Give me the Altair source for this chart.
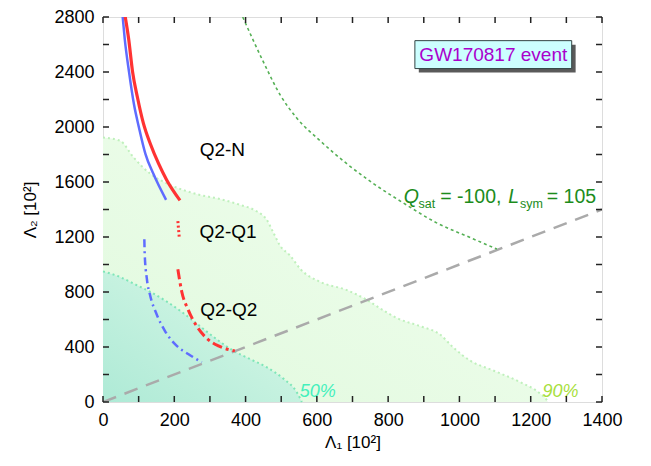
import altair as alt
import pandas as pd

# ---------------- data ----------------
# 90% credible region boundary (Lambda1, Lambda2) in units of 10^2
r90_x = [0, 48, 85, 132, 179, 225, 272, 319, 384, 431, 459, 478, 497, 525, 553, 609, 684, 740, 777, 824, 890, 945, 983, 1030, 1095, 1170, 1226, 1245, 1248]
r90_y = [1924, 1900, 1781, 1661, 1590, 1542, 1506, 1482, 1434, 1387, 1327, 1232, 1136, 1065, 969, 874, 814, 743, 682, 611, 551, 492, 396, 301, 229, 145, 62, 14, 0]
# 50% credible region boundary
r50_x = [0, 48, 85, 132, 179, 225, 272, 319, 366, 412, 459, 506, 543, 553, 558]
r50_y = [950, 909, 862, 802, 730, 647, 551, 456, 372, 313, 253, 170, 74, 26, 0]

# Q2-N curves
blue_n_x = [55, 61, 73, 87, 101, 119, 141, 177]
blue_n_y = [2807, 2640, 2401, 2163, 1995, 1805, 1661, 1470]
red_n_x = [62, 72, 83, 97, 113, 133, 156, 179, 216]
red_n_y = [2807, 2640, 2401, 2211, 2030, 1876, 1733, 1613, 1466]
# Q2-Q1 (red dotted)
red_q1_x = [210, 212, 214]
red_q1_y = [1315, 1255, 1196]
# Q2-Q2 (dash-dot)
red_q2_x = [210, 221, 239, 263, 291, 324, 370]
red_q2_y = [965, 802, 671, 551, 463, 408, 372]
blue_q2_x = [116, 117, 123, 132, 151, 174, 207, 239, 277]
blue_q2_y = [1184, 1076, 897, 778, 635, 516, 408, 349, 289]
# Q_sat = -100, L_sym = 105 curve (green dotted)
qsat_x = [392, 450, 497, 543, 609, 684, 758, 843, 936, 1030, 1105]
qsat_y = [2800, 2473, 2234, 2067, 1900, 1733, 1590, 1447, 1303, 1196, 1112]
# Lambda1 = Lambda2 line
eq_x = [0, 1400]
eq_y = [0, 1400]

# text labels
region_labels = ["Q2-N", "Q2-Q1", "Q2-Q2"]
region_lx = [335, 351, 353]
region_ly = [1831, 1239, 666]

x_ticks = list(range(0, 1401, 100))
y_ticks = list(range(0, 2801, 200))
x_labels = list(range(0, 1401, 200))
y_labels = list(range(0, 2801, 400))

W, H = 499, 385
FONT = "Liberation Sans"

xs = alt.Scale(domain=[0, 1400], nice=False, zero=False)
ys = alt.Scale(domain=[0, 2800], nice=False, zero=False)

x_axis = alt.Axis(values=x_labels, format="d", ticks=False, domain=False, grid=False,
                  labelFlush=False, labelOverlap=False,
                  labelFont=FONT, labelFontSize=18, labelColor="black", labelPadding=9,
                  title="Λ₁ [10²]", titleFont=FONT, titleFontSize=17,
                  titleFontWeight="normal", titleColor="black", titlePadding=5)
y_axis = alt.Axis(values=y_labels, format="d", ticks=False, domain=False, grid=False,
                  labelFlush=False, labelOverlap=False,
                  labelFont=FONT, labelFontSize=18, labelColor="black", labelPadding=9,
                  title="Λ₂ [10²]", titleFont=FONT, titleFontSize=17,
                  titleFontWeight="normal", titleColor="black", titlePadding=14)


def df(xv, yv):
    return pd.DataFrame({"x": xv, "y": yv})


def X():
    return alt.X("x:Q", scale=xs, axis=x_axis, title="Λ₁ [10²]")


def Y():
    return alt.Y("y:Q", scale=ys, axis=y_axis, title="Λ₂ [10²]")


grad90 = alt.Gradient(gradient="linear", x1=0, y1=1, x2=1, y2=0,
                      stops=[alt.GradientStop(color="#e0f9dd", offset=0),
                             alt.GradientStop(color="#f3fff1", offset=1)])
grad50 = alt.Gradient(gradient="linear", x1=0, y1=1, x2=1, y2=0,
                      stops=[alt.GradientStop(color="#aeead6", offset=0),
                             alt.GradientStop(color="#ddf9e9", offset=1)])

area90 = alt.Chart(df(r90_x, r90_y)).mark_area(
    interpolate="monotone", color=grad90).encode(x=X(), y=Y())
area50 = alt.Chart(df(r50_x, r50_y)).mark_area(
    interpolate="monotone", color=grad50).encode(x=X(), y=Y())
edge90 = alt.Chart(df(r90_x, r90_y)).mark_line(
    interpolate="monotone", color="#bff0bc", strokeWidth=2, strokeDash=[2, 3]).encode(x=X(), y=Y())
edge50 = alt.Chart(df(r50_x, r50_y)).mark_line(
    interpolate="monotone", color="#7ee6b8", strokeWidth=2, strokeDash=[2, 3]).encode(x=X(), y=Y())


def curve(xv, yv, color, width, dash=None):
    kw = dict(interpolate="monotone", color=color, strokeWidth=width, clip=True)
    if dash:
        kw["strokeDash"] = dash
    return alt.Chart(df(xv, yv)).mark_line(**kw).encode(x=X(), y=Y())


eq_line = curve(eq_x, eq_y, "#aaaaaa", 2.5, [14, 9])
qsat_line = curve(qsat_x, qsat_y, "#55b055", 1.6, [3, 3])
blue_n = curve(blue_n_x, blue_n_y, "#5f6cff", 2.5)
red_n = curve(red_n_x, red_n_y, "#ff3333", 3.2)
red_q1 = curve(red_q1_x, red_q1_y, "#ff3333", 3, [2, 2.5])
red_q2 = curve(red_q2_x, red_q2_y, "#ff3333", 3, [10, 4, 3, 4])
blue_q2 = curve(blue_q2_x, blue_q2_y, "#5f6cff", 2.5, [8, 4, 2, 4])

labels = alt.Chart(pd.DataFrame({"x": region_lx, "y": region_ly, "t": region_labels})).mark_text(
    font=FONT, fontSize=19, color="black", baseline="middle", align="center").encode(
    x=X(), y=Y(), text="t:N")

# Q_sat = -100, L_sym = 105 annotation pieces
qs_txt = ["Q", "sat", "= -100,", "L", "sym", "= 105"]
qs_x = [844, 885, 946, 1137, 1170, 1245]
qs_y = [1447, 1410, 1447, 1447, 1410, 1447]
qs_size = [19.5, 12.5, 19.5, 19.5, 12.5, 19.5]
qs_style = ["italic", "normal", "normal", "italic", "normal", "normal"]
qs_df = pd.DataFrame({"x": qs_x, "y": qs_y, "t": qs_txt})
qs_layers = []
for i in range(len(qs_txt)):
    qs_layers.append(alt.Chart(qs_df.iloc[[i]]).mark_text(
        font=FONT, fontSize=qs_size[i], fontStyle=qs_style[i], color="#1c8c1c",
        baseline="alphabetic", align="left").encode(x=X(), y=Y(), text="t:N"))

pct_df = pd.DataFrame({"x": [552, 1233], "y": [36, 36], "t": ["50%", "90%"]})
pct50 = alt.Chart(pct_df.iloc[[0]]).mark_text(
    font=FONT, fontSize=18, fontStyle="italic", color="#44f0bc", align="left",
    baseline="alphabetic").encode(x=X(), y=Y(), text="t:N")
pct90 = alt.Chart(pct_df.iloc[[1]]).mark_text(
    font=FONT, fontSize=18, fontStyle="italic", color="#a8e040", align="left",
    baseline="alphabetic").encode(x=X(), y=Y(), text="t:N")

# event box
box_x = [875, 886]
box_x2 = [1315, 1326]
box_y = [2628, 2599]
box_y2 = [2425, 2396]
shadow = alt.Chart(pd.DataFrame({"x": [box_x[1]], "x2": [box_x2[1]], "y": [box_y[1]], "y2": [box_y2[1]]})).mark_rect(
    color="#5a5a5a").encode(x=X(), x2="x2:Q", y=Y(), y2="y2:Q")
box = alt.Chart(pd.DataFrame({"x": [box_x[0]], "x2": [box_x2[0]], "y": [box_y[0]], "y2": [box_y2[0]]})).mark_rect(
    fill="#ccffff", stroke="#334444", strokeWidth=1).encode(x=X(), x2="x2:Q", y=Y(), y2="y2:Q")
box_text = alt.Chart(pd.DataFrame({"x": [1095], "y": [2527], "t": ["GW170817 event"]})).mark_text(
    font=FONT, fontSize=19, color="#aa00cc", align="center", baseline="middle").encode(
    x=X(), y=Y(), text="t:N")

# inward ticks on all four sides
xt = pd.DataFrame({"x": x_ticks})
yt = pd.DataFrame({"y": y_ticks})
TL = 6
tick_kw = dict(color="#222222", strokeWidth=1.5)
t_bottom = alt.Chart(xt).mark_rule(**tick_kw).encode(x=X(), y=alt.value(H), y2=alt.value(H - TL))
t_top = alt.Chart(xt).mark_rule(**tick_kw).encode(x=X(), y=alt.value(0), y2=alt.value(TL))
t_left = alt.Chart(yt).mark_rule(**tick_kw).encode(y=Y(), x=alt.value(0), x2=alt.value(TL))
t_right = alt.Chart(yt).mark_rule(**tick_kw).encode(y=Y(), x=alt.value(W), x2=alt.value(W - TL))

chart = alt.layer(
    area90, area50, edge90, edge50, eq_line, qsat_line,
    blue_n, red_n, red_q1, red_q2, blue_q2,
    labels, *qs_layers, pct50, pct90,
    shadow, box, box_text,
    t_bottom, t_top, t_left, t_right,
).properties(
    width=W, height=H,
    autosize=alt.AutoSizeParams(type="none"),
    padding={"left": 95, "top": 9, "right": 40, "bottom": 60},
).configure_view(stroke="#222222", strokeWidth=2).configure(background="white")

chart.save("out.html", embed_options={"renderer": "svg", "actions": False})
